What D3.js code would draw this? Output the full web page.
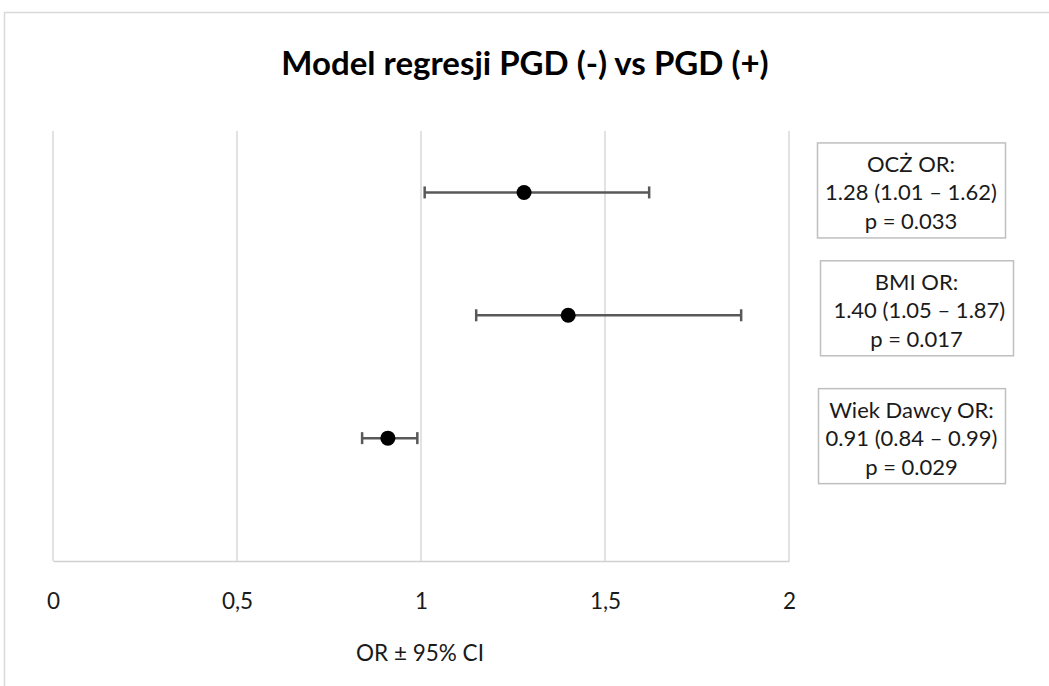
<!DOCTYPE html>
<html lang="pl">
<head>
    <meta charset="UTF-8">
    <script src="https://d3js.org/d3.v7.min.js"></script>
    <title>Model regresji PGD</title>
    <style>
        body { margin: 0; background: #fff; }
        text { font-family: Lato, "Open Sans", sans-serif; }
    </style>
</head>
<body>
    <svg id="chart" width="1049" height="686"></svg>
    <script>
        // Dane
        var zmienne = ["OCŻ", "BMI", "Wiek Dawcy"];
        var pozycjaY = [3, 2, 1];
        var orWartosci = [1.28, 1.40, 0.91];
        var ciDolne = [1.01, 1.15, 0.84];
        var ciGorne = [1.62, 1.87, 0.99];
        var etykiety = [
            ["OCŻ OR:", "1.28 (1.01 – 1.62)", "p = 0.033"],
            ["BMI OR:", " 1.40 (1.05 – 1.87)", "p = 0.017"],
            ["Wiek Dawcy OR:", "0.91 (0.84 – 0.99)", "p = 0.029"]
        ];
        var tickiX = [0, 0.5, 1, 1.5, 2];

        var svg = d3.select("#chart");

        // ramka wykresu
        svg.append("rect")
            .attr("x", 4.5).attr("y", 12.5)
            .attr("width", 1100).attr("height", 700)
            .attr("fill", "#fff")
            .attr("stroke", "#d9d9d9")
            .attr("stroke-width", 1.5);

        // tytul
        svg.append("text")
            .attr("x", 525).attr("y", 62)
            .attr("text-anchor", "middle")
            .attr("dominant-baseline", "central")
            .attr("font-size", 33)
            .attr("font-weight", "bold")
            .attr("fill", "#000")
            .text("Model regresji PGD (-) vs PGD (+)");

        // Skale
        var x = d3.scaleLinear().domain([0, 2]).range([53, 789]);
        var y = d3.scaleLinear().domain([0, 3.5]).range([561, 131]);

        // siatka
        svg.append("g").selectAll("line")
            .data(tickiX)
            .enter().append("line")
            .attr("x1", d => x(d)).attr("x2", d => x(d))
            .attr("y1", y(0)).attr("y2", y(3.5))
            .attr("stroke", "#d9d9d9")
            .attr("stroke-width", 1.5);

        // os X
        var przecinek = d3.formatLocale({ decimal: ",", thousands: " ", grouping: [3], currency: ["", " zł"] });
        var osX = d3.axisBottom(x)
            .tickValues(tickiX)
            .tickSize(0)
            .tickPadding(32)
            .tickFormat(przecinek.format("~g"));

        var gOs = svg.append("g")
            .attr("transform", "translate(0," + y(0) + ")")
            .call(osX);
        gOs.select(".domain").attr("stroke", "#d0d0d0").attr("stroke-width", 1.5);
        gOs.selectAll("text")
            .attr("font-size", 22.5)
            .attr("fill", "#1a1a1a")
            .style("font-family", "Lato, sans-serif");

        svg.append("text")
            .attr("x", 420).attr("y", 652)
            .attr("text-anchor", "middle")
            .attr("dominant-baseline", "central")
            .attr("font-size", 22.5)
            .attr("fill", "#1a1a1a")
            .text("OR ± 95% CI");

        // slupki bledow
        var bledy = svg.append("g")
            .attr("stroke", "#595959")
            .attr("stroke-width", 2.5);

        zmienne.forEach(function (z, i) {
            var yy = y(pozycjaY[i]);
            bledy.append("line")
                .attr("x1", x(ciDolne[i])).attr("x2", x(ciGorne[i]))
                .attr("y1", yy).attr("y2", yy);
            [ciDolne[i], ciGorne[i]].forEach(function (v) {
                bledy.append("line")
                    .attr("x1", x(v)).attr("x2", x(v))
                    .attr("y1", yy - 6).attr("y2", yy + 6);
            });
        });

        // punkty
        svg.selectAll("circle.pkt")
            .data(orWartosci)
            .enter().append("circle")
            .attr("class", "pkt")
            .attr("cx", d => x(d))
            .attr("cy", (d, i) => y(pozycjaY[i]))
            .attr("r", 7.5)
            .attr("fill", "#000");

        // pola z opisem
        var boxLewo = [817, 820, 818];
        var boxSzer = [188, 193, 187];
        var boxPrzes = [-50, -55, -50];

        etykiety.forEach(function (linie, i) {
            var top = y(pozycjaY[i]) + boxPrzes[i];
            var g = svg.append("g");
            g.append("rect")
                .attr("x", boxLewo[i] + 0.5).attr("y", top + 0.5)
                .attr("width", boxSzer[i]).attr("height", 95)
                .attr("fill", "#fff")
                .attr("stroke", "#bfbfbf")
                .attr("stroke-width", 1.5);
            linie.forEach(function (t, j) {
                g.append("text")
                    .attr("x", boxLewo[i] + boxSzer[i] / 2)
                    .attr("y", top + 21 + j * 28.5)
                    .attr("text-anchor", "middle")
                    .attr("dominant-baseline", "central")
                    .attr("font-size", 22)
                    .attr("fill", "#1a1a1a")
                    .style("white-space", "pre")
                    .text(t);
            });
        });
    </script>
</body>
</html>
